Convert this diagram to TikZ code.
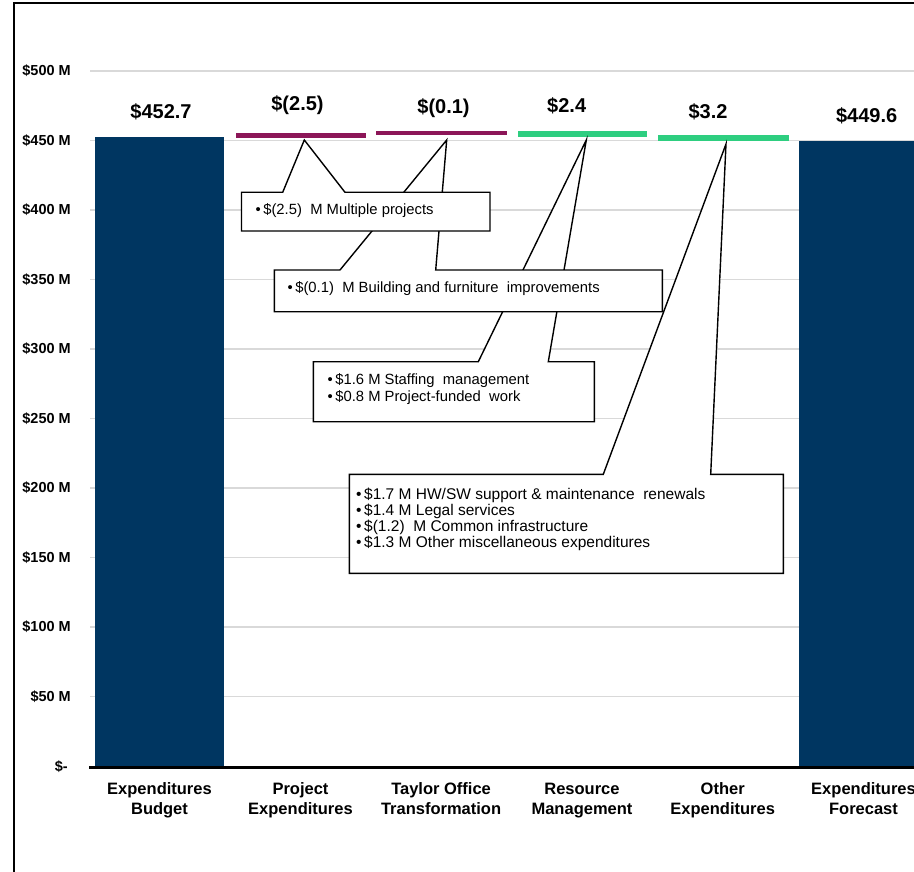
\documentclass[tikz,border=0pt]{standalone}
\usepackage{fontspec}
\setmainfont{Liberation Sans}
\definecolor{navy}{RGB}{0,54,97}
\definecolor{negc}{RGB}{140,22,88}
\definecolor{posc}{RGB}{46,206,128}
\definecolor{gridgray}{RGB}{217,217,217}
\newcommand{\dsp}{\hspace{0.28em}}
\begin{document}
\begin{tikzpicture}[x=1pt,y=-1pt,
  grid/.style={draw=gridgray, line width=1.5pt},
  navybar/.style={fill=navy},
  negbar/.style={fill=negc},
  posbar/.style={fill=posc},
  axlab/.style={font=\bfseries\fontsize{14.5}{16}\selectfont, anchor=east, inner sep=0},
  vallab/.style={font=\bfseries\fontsize{20}{22}\selectfont, anchor=base, inner sep=0},
  catlab/.style={font=\bfseries\fontsize{16.5}{19.5}\selectfont, align=center, inner sep=0},
  callout/.style={fill=white, draw=black, line width=1.4pt, line join=miter},
  calltext/.style={font=\fontsize{14.8}{16.3}\selectfont, anchor=base west, inner sep=0},
  bigtext/.style={font=\fontsize{15.5}{16.3}\selectfont, anchor=base west, inner sep=0},
]
\useasboundingbox (0,0) rectangle (914,872);
\fill[white] (0,0) rectangle (914,872);

% gridlines
\foreach \v in {50,100,...,500}
  \draw[grid] (90,{766-1.39*\v}) -- (914,{766-1.39*\v});

% axis labels
\node[axlab] (ax500) at (71,71) {\$500 M};
\node[axlab] (ax450) at (71,140.5) {\$450 M};
\node[axlab] (ax400) at (71,210) {\$400 M};
\node[axlab] (ax350) at (71,279.5) {\$350 M};
\node[axlab] (ax300) at (71,349) {\$300 M};
\node[axlab] (ax250) at (71,418.5) {\$250 M};
\node[axlab] (ax200) at (71,488) {\$200 M};
\node[axlab] (ax150) at (71,557.5) {\$150 M};
\node[axlab] (ax100) at (71,627) {\$100 M};
\node[axlab] (ax50) at (71,696.5) {\$50 M};
\node[axlab] (ax0) at (68,767) {\$-};

% bars
\fill[navybar] (95,136.7) rectangle (224,767);
\fill[navybar] (799,141) rectangle (914,767);
\fill[negbar] (236,132.8) rectangle (366,137.8);
\fill[negbar] (376,131) rectangle (506.5,135);
\fill[posbar] (517.5,131.5) rectangle (647,136.8);
\fill[posbar] (658,134.8) rectangle (788.5,141.5);

% axis line
\draw[line width=2.4pt] (89,767.5) -- (914,767.5);

% value labels
\node[vallab] (v1) at (161,119) {\$452.7};
\node[vallab] (v2) at (297.5,111) {\$(2.5)};
\node[vallab] (v3) at (443.5,113.5) {\$(0.1)};
\node[vallab] (v4) at (566.7,113) {\$2.4};
\node[vallab] (v5) at (708,119) {\$3.2};
\node[vallab] (v6) at (866.7,123) {\$449.6};

% category labels
\node[catlab] (c1) at (159.5,800.5) {Expenditures\strut\\Budget\strut};
\node[catlab] (c2) at (300.5,800.5) {Project\strut\\Expenditures\strut};
\node[catlab] (c3) at (441.1,800.5) {Taylor Office\strut\\Transformation\strut};
\node[catlab] (c4) at (582,800.5) {Resource\strut\\Management\strut};
\node[catlab] (c5) at (722.7,800.5) {Other\strut\\Expenditures\strut};
\node[catlab] (c6) at (863.5,800.5) {Expenditures\strut\\Forecast\strut};

% callout tips
\coordinate (tip1) at (304.3,140);
\coordinate (tip2) at (446.7,140);
\coordinate (tip3) at (586.3,140);
\coordinate (tip4) at (726,144);

% callout 4
\draw[callout] (349.3,474.3) -- (603.3,474.3) -- (tip4) -- (710.7,474.3) -- (783.3,474.3)
  -- (783.3,573.3) -- (349.3,573.3) -- cycle;
\node[bigtext] (b4l1) at (356,499) {•\,\$1.7 M HW/SW support \& maintenance\dsp{} renewals};
\node[bigtext] (b4l2) at (356,515.3) {•\,\$1.4 M Legal services};
\node[bigtext] (b4l3) at (356,531.6) {•\,\$(1.2)\dsp{} M Common infrastructure};
\node[bigtext] (b4l4) at (356,547.9) {•\,\$1.3 M Other miscellaneous expenditures};

% callout 3
\draw[callout] (313.3,361.7) -- (478.3,361.7) -- (tip3) -- (548.3,361.7) -- (594.3,361.7)
  -- (594.3,421.7) -- (313.3,421.7) -- cycle;
\node[calltext] (b3l1) at (327.5,384.5) {•\,\$1.6 M Staffing\dsp{} management};
\node[calltext] (b3l2) at (327.5,401.2) {•\,\$0.8 M Project-funded\dsp{} work};

% callout 2
\draw[callout] (274.3,270) -- (340,270) -- (tip2) -- (435.7,270) -- (662.3,270)
  -- (662.3,311.7) -- (274.3,311.7) -- cycle;
\node[calltext] (b2l1) at (287.5,292.5) {•\,\$(0.1)\dsp{} M Building and furniture\dsp{} improvements};

% callout 1
\draw[callout] (241.5,192.3) -- (282.7,192.3) -- (tip1) -- (345,192.3) -- (490,192.3)
  -- (490,231) -- (241.5,231) -- cycle;
\node[calltext] (b1l1) at (255.5,214.5) {•\,\$(2.5)\dsp{} M Multiple projects};

% frame
\draw[line width=1.3pt] (14,872) -- (14,3) -- (914,3);
\end{tikzpicture}
\end{document}
